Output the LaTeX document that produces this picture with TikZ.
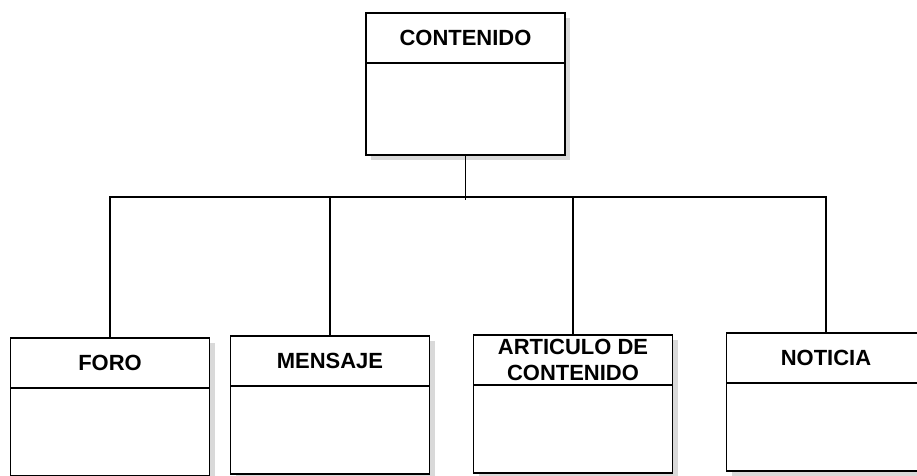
\documentclass[tikz,border=0pt]{standalone}
\usepackage{fontspec}
\setmainfont{Liberation Sans}
\usetikzlibrary{positioning,shadows}
\begin{document}
\begin{tikzpicture}[inner sep=0pt,outer sep=0pt,line width=1.1pt,
clsbox/.style={draw,fill=white,rectangle,minimum width=3.98cm,minimum height=2.76cm,
  drop shadow={shadow xshift=0.1cm,shadow yshift=-0.1cm,opacity=0.3}},
clshead/.style={draw,rectangle,minimum width=3.98cm,minimum height=1cm,align=center,
  font=\fontsize{12.5}{15}\selectfont\bfseries}]
\useasboundingbox (0,0) rectangle (18.34,9.5);
% parent class
\draw (9.31,7.82) node[clsbox,minimum height=2.84cm] (cont) {};
\node[clshead,below=0pt of cont.north] (contH) {CONTENIDO};
% child classes
\draw (2.20,1.36) node[clsbox] (foro) {};
\node[clshead,below=0pt of foro.north] (foroH) {FORO};
\draw (6.60,1.40) node[clsbox] (mens) {};
\node[clshead,below=0pt of mens.north] (mensH) {MENSAJE};
\draw (11.46,1.42) node[clsbox] (art) {};
\node[clshead,below=0pt of art.north] (artH) {ARTICULO DE\\CONTENIDO};
\draw (16.52,1.46) node[clsbox] (noti) {};
\node[clshead,below=0pt of noti.north] (notiH) {NOTICIA};
% tree connectors
\coordinate (bus) at (9.31,5.56);
\draw (cont.south) -- ++(0,-0.9);
\draw (foro.north) |- (bus) -| (noti.north);
\draw (mens.north) -- (mens.north |- bus);
\draw (art.north) -- (art.north |- bus);
\end{tikzpicture}
\end{document}
